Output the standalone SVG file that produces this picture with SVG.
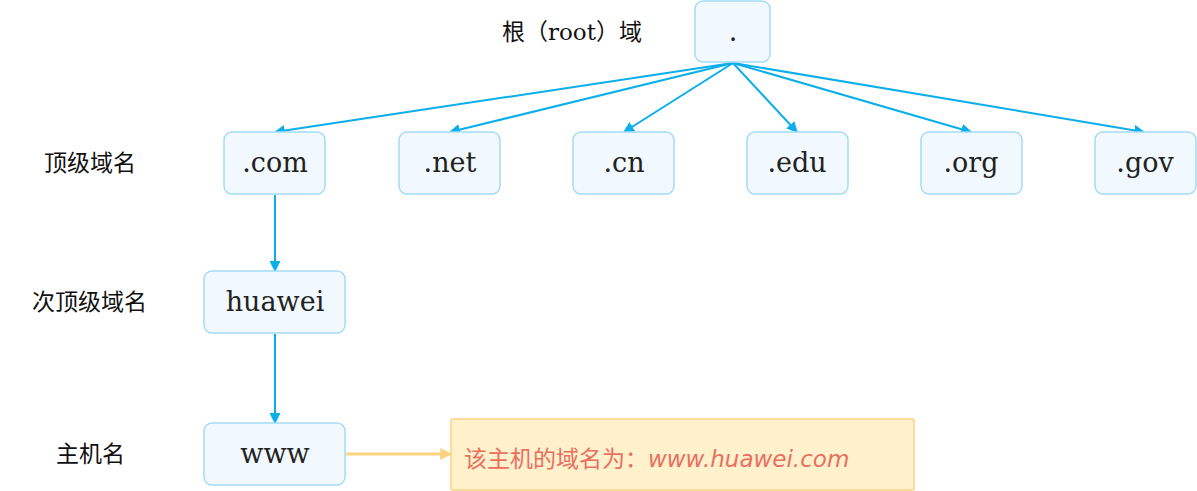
<svg xmlns="http://www.w3.org/2000/svg" width="1197" height="491" viewBox="0 0 1197 491">
<style>
.box{fill:#f2f9fe;stroke:#a3dcf5;stroke-width:1.5}
.nt{font-family:"DejaVu Serif",serif;font-size:27px;fill:#222;text-anchor:middle}
.lb{font-family:"Noto Sans CJK SC",sans-serif;font-size:23px;fill:#111}
.e{stroke:#0aaeea;stroke-width:2;fill:none;marker-end:url(#a)}
</style>
<defs>
<marker id="a" viewBox="0 0 10 10" refX="9" refY="5" markerWidth="5.5" markerHeight="5.5" orient="auto" markerUnits="strokeWidth">
<path d="M0,0 L10,5 L0,10 z" fill="#0aaeea"/>
</marker>
<marker id="b" viewBox="0 0 10 10" refX="9" refY="5" markerWidth="4" markerHeight="4" orient="auto" markerUnits="strokeWidth">
<path d="M0,0 L10,5 L0,10 z" fill="#ffd27f"/>
</marker>
</defs>
<g id="labels">
<text class="lb" x="502" y="40"><tspan>根（</tspan><tspan font-family="DejaVu Serif,serif">root</tspan><tspan>）域</tspan></text>
<text class="lb" x="44" y="171">顶级域名</text>
<text class="lb" x="32" y="310">次顶级域名</text>
<text class="lb" x="56" y="462">主机名</text>
</g>
<g id="connectors">
<line class="e" x1="733" y1="63" x2="275" y2="132"/>
<line class="e" x1="733" y1="63" x2="450" y2="132"/>
<line class="e" x1="733" y1="63" x2="624" y2="132"/>
<line class="e" x1="733" y1="63" x2="797" y2="132"/>
<line class="e" x1="733" y1="63" x2="971" y2="132"/>
<line class="e" x1="733" y1="63" x2="1144" y2="132"/>
<line class="e" x1="275" y1="195" x2="275" y2="271"/>
<line class="e" x1="275" y1="334" x2="275" y2="423"/>
<line x1="346" y1="454" x2="451" y2="454" stroke="#ffd27f" stroke-width="3" marker-end="url(#b)"/>
</g>
<g id="root"><rect class="box" x="695" y="1" width="75" height="61" rx="8"/><text class="nt" x="733" y="41">.</text></g>
<g id="com"><rect class="box" x="224" y="132" width="101" height="62" rx="8"/><text class="nt" x="275" y="172">.com</text></g>
<g id="net"><rect class="box" x="399" y="132" width="101" height="62" rx="8"/><text class="nt" x="450" y="172">.net</text></g>
<g id="cn"><rect class="box" x="573" y="132" width="101" height="62" rx="8"/><text class="nt" x="624" y="172">.cn</text></g>
<g id="edu"><rect class="box" x="747" y="132" width="101" height="62" rx="8"/><text class="nt" x="797" y="172">.edu</text></g>
<g id="org"><rect class="box" x="921" y="132" width="101" height="62" rx="8"/><text class="nt" x="971" y="172">.org</text></g>
<g id="gov"><rect class="box" x="1095" y="132" width="101" height="62" rx="8"/><text class="nt" x="1145" y="172">.gov</text></g>
<g id="huawei"><rect class="box" x="204" y="271" width="141" height="62" rx="8"/><text class="nt" x="275" y="311">huawei</text></g>
<g id="www"><rect class="box" x="204" y="423" width="141" height="62" rx="8"/><text class="nt" x="275" y="463">www</text></g>
<g id="note"><rect x="451" y="419" width="463" height="71" rx="2" fill="#fff1cc" stroke="#ffd27f" stroke-width="1.5"/><text x="464" y="467" font-family="Noto Sans CJK SC,sans-serif" font-size="23" fill="#e96f5f">该主机的域名为：<tspan font-style="italic" font-family="DejaVu Sans,sans-serif">www.huawei.com</tspan></text></g>
</svg>
